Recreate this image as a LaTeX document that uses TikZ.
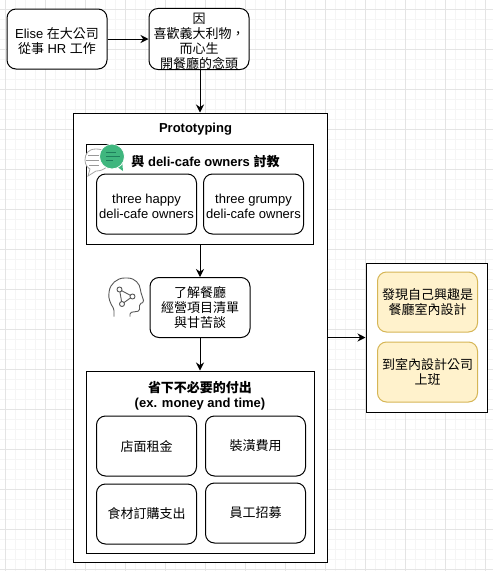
\documentclass[tikz,border=0pt]{standalone}
\usepackage{fontspec}
\setmainfont{Liberation Sans}
\newfontfamily\cjk{Noto Sans CJK TC}
\newcommand{\zh}[1]{{\cjk #1}}
\newcommand{\lift}{\rule{0pt}{15pt}}
\usetikzlibrary{arrows.meta}
\definecolor{gridmajor}{HTML}{E4E4E4}
\definecolor{gridminor}{HTML}{F5F5F5}
\definecolor{notefill}{HTML}{FFF2CC}
\definecolor{noteline}{HTML}{D6B656}
\definecolor{bubblegreen}{HTML}{3FB67E}
\definecolor{bubbledark}{HTML}{1E7F5C}

\begin{document}
\begin{tikzpicture}[x=1pt,y=-1pt]
\tikzset{
  card/.style={rectangle,draw,line width=1pt,rounded corners=9pt,fill=white,minimum width=100pt,minimum height=60pt,inner sep=0pt,align=center,font=\fontsize{13}{15}\selectfont},
  note/.style={card,draw=noteline,fill=notefill},
  panel/.style={rectangle,draw,line width=1pt,fill=white,inner sep=0pt},
  heading/.style={inner sep=0pt,align=center,font=\fontsize{13}{15}\selectfont\bfseries},
  directed/.style={-{Stealth[length=8pt,width=8pt]},line width=1pt},
  iconline/.style={line width=0.9pt,draw=black!65}
}
\useasboundingbox (0,0) rectangle (493,571);
% grid
\fill[white] (0,0) rectangle (493,571);
\foreach \x in {15,25,35,55,65,75,95,105,115,135,145,155,175,185,195,215,225,235,255,265,275,295,305,315,335,345,355,375,385,395,415,425,435,455,465,475}
  \draw[gridminor] (\x+0.5,0) -- (\x+0.5,571);
\foreach \y in {19,29,39,59,69,79,99,109,119,139,149,159,179,189,199,219,229,239,259,269,279,299,309,319,339,349,359,379,389,399,419,429,439,459,469,479,499,509,519,539,549,559}
  \draw[gridminor] (0,\y+0.5) -- (493,\y+0.5);
\foreach \x in {5,45,85,125,165,205,245,285,325,365,405,445,485}
  \draw[gridmajor] (\x+0.5,0) -- (\x+0.5,571);
\foreach \y in {9,49,89,129,169,209,249,289,329,369,409,449,489,529,569}
  \draw[gridmajor] (0,\y+0.5) -- (493,\y+0.5);
% top row
\node[card] (n_elise) at (57,39) {\lift Elise \zh{在大公司}\\\zh{從事} HR \zh{工作}};
\node[card] (n_cause) at (199,39) {\lift\zh{因}\\\zh{喜歡義大利物，}\\\zh{而心生}\\\zh{開餐廳的念頭}};
% prototyping
\node[panel,minimum width=254pt,minimum height=449pt] (n_proto) at (200,337.5) {};
\node[heading] (n_protot) at (195.5,129) {Prototyping};
\node[panel,minimum width=227pt,minimum height=100pt] (n_talk) at (200,194) {};
\node[heading] (n_talkt) at (205.5,162) {\zh{與} deli-cafe owners \zh{討教}};
\node[card] (n_happy) at (146.5,204) {\lift three happy\\deli-cafe owners};
\node[card] (n_grumpy) at (253.5,204) {\lift three grumpy\\deli-cafe owners};
\node[card] (n_learn) at (200,307.5) {\zh{了解餐廳}\\\zh{經營項目清單}\\\zh{與甘苦談}};
\node[panel,minimum width=228pt,minimum height=182pt] (n_save) at (200,462) {};
\node[heading] (n_savet) at (200,396) {\zh{省下不必要的付出}\\(ex. money and time)};
\node[card] (n_rent) at (146.5,446) {\zh{店面租金}};
\node[card] (n_deco) at (255.5,446) {\zh{裝潢費用}};
\node[card] (n_food) at (146.5,514) {\zh{食材訂購支出}};
\node[card] (n_staff) at (255.5,513) {\zh{員工招募}};
% result
\node[panel,minimum width=121pt,minimum height=149pt] (n_result) at (426.5,337.5) {};
\node[note] (n_find) at (427.5,302) {\zh{發現自己興趣是}\\\zh{餐廳室內設計}};
\node[note] (n_work) at (427.5,372) {\zh{到室內設計公司}\\\zh{上班}};
% connectors
\draw[directed] (n_elise) -- (n_cause);
\draw[directed] (n_cause.south -| n_learn) -- (n_proto.north -| n_learn);
\draw[directed] (n_talk) -- (n_learn);
\draw[directed] (n_learn) -- (n_save);
\draw[directed] (n_proto) -- (n_result);
% icons
\draw[line width=0.8pt,draw=black!35,fill=white] (96,149) .. controls (88,149) and (85,154) .. (85,160) .. controls (85,165) and (88,168) .. (90,169) -- (88,176) -- (96,171) .. controls (104,171) and (110,166) .. (110,160) .. controls (110,153) and (104,149) .. (96,149) -- cycle;
\draw[line width=0.7pt,draw=black!40] (88,155) -- (99,155) (86,160) -- (99,160) (89,165) -- (99,165);
\fill[bubblegreen] (116,166) -- (123,171) -- (122,160) -- cycle;
\draw[line width=0.8pt,draw=white,fill=bubblegreen] (112,156.5) circle (12.5pt);
\draw[line width=1pt,draw=bubbledark] (106,152) -- (116,152) (106,156) -- (120,156) (106,160) -- (113,160);
\draw[iconline,rounded corners=1.5pt] (114,316.5) -- (114,309) .. controls (110,303) and (108.5,298) .. (109,293) .. controls (110,284) and (117,278) .. (126,278) .. controls (135,278) and (140,284) .. (140.5,291) -- (144,302) -- (139.5,304) -- (139.5,311) -- (130,312.5) -- (130,316.5);
\draw[iconline,fill=white] (119.5,289.5) -- (132.5,296.5) -- (122,304) -- cycle;
\draw[iconline,fill=white] (119.5,289.5) circle (2.5pt) (132.5,296.5) circle (2.5pt) (122,304) circle (2.5pt);
\end{tikzpicture}
\end{document}
